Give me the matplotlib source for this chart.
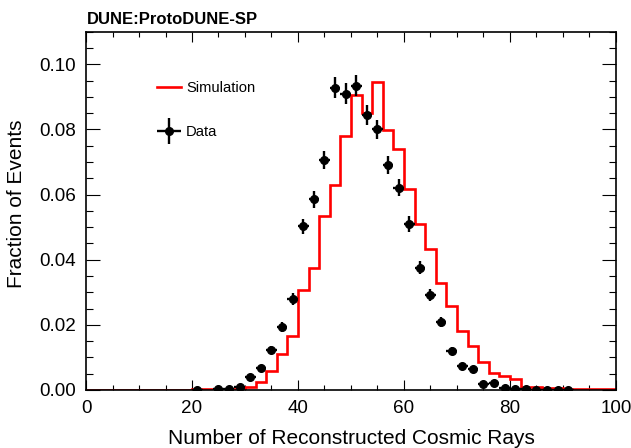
"""ProtoDUNE-SP: number of reconstructed cosmic rays per event, data vs simulation."""
import matplotlib
matplotlib.use("Agg")
import matplotlib.pyplot as plt
import numpy as np
from matplotlib.container import ErrorbarContainer
from matplotlib.legend_handler import HandlerErrorbar
from matplotlib.ticker import MultipleLocator

plt.rcParams["font.family"] = ["Liberation Sans", "DejaVu Sans"]

# Simulation histogram: 2-unit bins from 0 to 100
sim_edges = np.arange(0, 101, 2)
sim_frac = [
    0, 0, 0, 0, 0, 0, 0, 0, 0, 0,                       # 0-20
    0.0002, 0.0002, 0.0003, 0.0003, 0.0004,             # 20-30
    0.0008, 0.0024, 0.0058, 0.0110, 0.0167,             # 30-40
    0.0307, 0.0376, 0.0534, 0.0629, 0.0779,             # 40-50
    0.0907, 0.0849, 0.0946, 0.0798, 0.0741,             # 50-60
    0.0617, 0.0511, 0.0432, 0.0329, 0.0259,             # 60-70
    0.0181, 0.0136, 0.0085, 0.0053, 0.0043,             # 70-80
    0.0034, 0.0008, 0.0008, 0.0005, 0.0005,             # 80-90
    0.0004, 0.0002, 0.0002, 0.0002, 0.0002,             # 90-100
]

# Data points (bin centres), fraction and statistical error
data_x = [21, 25, 27, 29, 31, 33, 35, 37, 39, 41, 43, 45, 47, 49, 51, 53, 55, 57,
          59, 61, 63, 65, 67, 69, 71, 73, 75, 77, 79, 81, 83, 85, 87, 89, 91]
data_frac = [0.0001, 0.0002, 0.0002, 0.0008, 0.0041, 0.0069, 0.0123, 0.0194, 0.0280,
             0.0502, 0.0586, 0.0706, 0.0928, 0.0910, 0.0934, 0.0845, 0.0800, 0.0690,
             0.0621, 0.0509, 0.0375, 0.0292, 0.0208, 0.0120, 0.0074, 0.0063, 0.0017,
             0.0021, 0.0005, 0.0002, 0.0003, 0.0001, 0.0001, 0.0001, 0.0001]
data_err = [0.0001, 0.00015, 0.00015, 0.0003, 0.0007, 0.0009, 0.0012, 0.0015, 0.0018,
            0.0024, 0.0026, 0.0028, 0.0032, 0.0032, 0.0032, 0.0031, 0.0030, 0.0028,
            0.0026, 0.0024, 0.0020, 0.0018, 0.0015, 0.0012, 0.0009, 0.0008, 0.0004,
            0.0005, 0.0003, 0.0002, 0.0002, 0.00015, 0.0001, 0.0001, 0.0001]
data_xerr = 1.0


def main():
    fig = plt.figure(figsize=(6.31, 4.48), dpi=100)
    ax = fig.add_axes([0.1363, 0.1295, 0.8399, 0.7997])

    ax.stairs(sim_frac, sim_edges, color="red", linewidth=1.9,
              label="Simulation", zorder=2)
    ax.errorbar(data_x, data_frac, yerr=data_err, xerr=data_xerr, fmt="o",
                color="black", ms=5.5, elinewidth=1.7, capsize=0,
                label="Data", zorder=3)

    ax.set_xlim(0, 100)
    ax.set_ylim(0, 0.11)
    ax.xaxis.set_major_locator(MultipleLocator(20))
    ax.xaxis.set_minor_locator(MultipleLocator(5))
    ax.yaxis.set_major_locator(MultipleLocator(0.02))
    ax.yaxis.set_minor_locator(MultipleLocator(0.005))
    ax.yaxis.set_major_formatter(lambda v, p: f"{v:.2f}")

    ax.tick_params(which="both", direction="in", top=True, right=True,
                   width=0.8, labelsize=13.6, colors="black")
    ax.tick_params(axis="x", which="major", length=7.2, pad=7)
    ax.tick_params(axis="x", which="minor", length=3.6)
    ax.tick_params(axis="y", which="major", length=10, pad=7)
    ax.tick_params(axis="y", which="minor", length=5)
    for sp in ax.spines.values():
        sp.set_linewidth(1.2)

    ax.set_xlabel("Number of Reconstructed Cosmic Rays", fontsize=15, labelpad=9)
    ax.set_ylabel("Fraction of Events", fontsize=15)
    ax.yaxis.set_label_coords(-0.114, 0.52)

    fig.text(0.1374, 0.946, "DUNE:ProtoDUNE-SP", fontsize=12, fontweight="bold",
             ha="left", va="baseline")

    ax.legend(loc="upper left", bbox_to_anchor=(0.1345, 0.862), frameon=False,
              fontsize=10.6, handlelength=1.6, handletextpad=0.36,
              labelspacing=2.05, borderpad=0, borderaxespad=0,
              handler_map={ErrorbarContainer: HandlerErrorbar(xerr_size=0.8, yerr_size=0.9)})

    fig.savefig("out.png", dpi=100)


if __name__ == "__main__":
    main()
